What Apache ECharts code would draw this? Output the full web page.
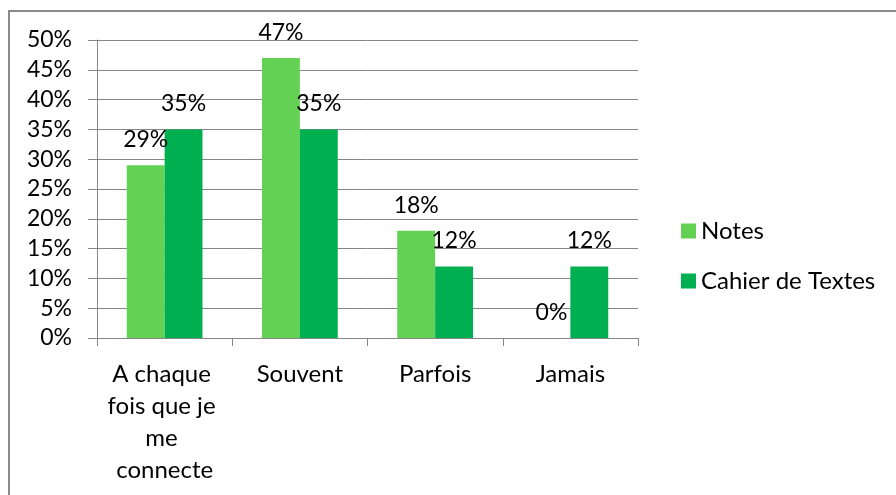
<!DOCTYPE html>
<html>
<head>
<meta charset="utf-8">
<style>
  html, body { margin: 0; padding: 0; background: #fff; }
  #chart { width: 896px; height: 495px; }
</style>
<script src="https://cdn.jsdelivr.net/npm/echarts@6/dist/echarts.min.js"></script>
</head>
<body>
<div id="chart"></div>
<script>
// Fréquence de consultation (en %)
const categories = ['A chaque fois que je me connecte', 'Souvent', 'Parfois', 'Jamais'];
const notes = [29, 47, 18, 0];
const cahierDeTextes = [35, 35, 12, 12];
const seriesNames = ['Notes', 'Cahier de Textes'];
const yTicks = { min: 0, max: 50, step: 5 };

const FONT = 'Lato';
const chart = echarts.init(document.getElementById('chart'), null, { renderer: 'canvas' });

const labelStyle = {
  show: true,
  position: 'top',
  distance: 14,
  color: '#000',
  fontFamily: FONT,
  fontSize: 23,
  formatter: p => p.value + '%'
};

chart.setOption({
  animation: false,
  textStyle: { fontFamily: FONT },
  graphic: [{
    type: 'rect',
    shape: { x: 9, y: 11, width: 900, height: 500 },
    style: { fill: 'none', stroke: '#8a8a8a', lineWidth: 2 },
    silent: true
  }],
  grid: { left: 97, top: 40, right: 258, bottom: 157, containLabel: false },
  legend: {
    orient: 'vertical',
    left: 676,
    top: 214,
    itemWidth: 15,
    itemHeight: 15,
    itemGap: 26,
    icon: 'rect',
    textStyle: { fontFamily: FONT, fontSize: 24, color: '#000' },
    data: seriesNames
  },
  xAxis: {
    type: 'category',
    data: categories,
    axisLine: { lineStyle: { color: '#868686', width: 1 } },
    axisTick: { show: true, length: 8, lineStyle: { color: '#868686' } },
    axisLabel: {
      interval: 0,
      color: '#000',
      fontFamily: FONT,
      fontSize: 24,
      margin: 20,
      width: 122,
      overflow: 'break',
      lineHeight: 32,
      align: 'center'
    }
  },
  yAxis: {
    type: 'value',
    min: yTicks.min,
    max: yTicks.max,
    interval: yTicks.step,
    axisLine: { show: true, lineStyle: { color: '#868686', width: 1 } },
    axisTick: { show: true, length: 9, lineStyle: { color: '#868686' } },
    splitLine: { show: true, lineStyle: { color: '#868686', width: 1 } },
    axisLabel: {
      color: '#000',
      fontFamily: FONT,
      fontSize: 23,
      margin: 25,
      formatter: '{value}%'
    }
  },
  series: [
    {
      name: seriesNames[0],
      type: 'bar',
      data: notes,
      barGap: '0%',
      barCategoryGap: '44%',
      itemStyle: { color: '#63D154' },
      label: labelStyle
    },
    {
      name: seriesNames[1],
      type: 'bar',
      data: cahierDeTextes,
      barGap: '0%',
      barCategoryGap: '44%',
      itemStyle: { color: '#00B050' },
      label: labelStyle
    }
  ]
});
</script>
</body>
</html>
